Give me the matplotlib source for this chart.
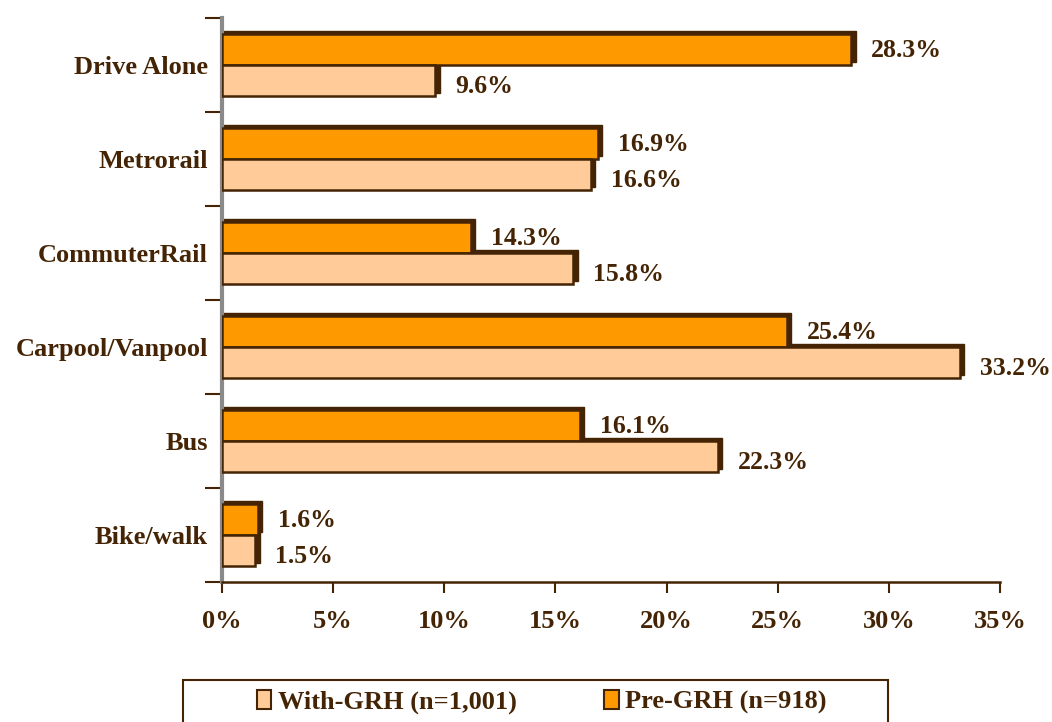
import numpy as np
import matplotlib.pyplot as plt
from matplotlib.patches import Patch, Rectangle

categories = ['Bike/walk', 'Bus', 'Carpool/Vanpool', 'CommuterRail', 'Metrorail', 'Drive Alone']
with_grh = [1.5, 22.3, 33.2, 15.8, 16.6, 9.6]
pre_grh = [1.6, 16.1, 25.4, 11.2, 16.9, 28.3]   # bar lengths as drawn
pre_labels = ['1.6%', '16.1%', '25.4%', '14.3%', '16.9%', '28.3%']
with_labels = ['1.5%', '22.3%', '33.2%', '15.8%', '16.6%', '9.6%']
x_ticks = [0, 5, 10, 15, 20, 25, 30, 35]

BROWN = '#442404'
ORANGE = '#ff9900'
LIGHT = '#ffcc99'
plt.rcParams['font.family'] = ['Liberation Serif', 'DejaVu Serif']
plt.rcParams['font.weight'] = 'bold'

fig = plt.figure(figsize=(10.52, 7.22), dpi=100)
ax = fig.add_axes([222 / 1052, 1 - 582 / 722, 778 / 1052, 564 / 722])

y = np.arange(len(categories))
h = 0.33
dx, dy = 0.2, 0.03

def draw(vals, offs, color):
    # fake 3D depth: dark slab behind each bar
    ax.barh(y + offs + dy, np.array(vals) + dx, height=h, left=0,
            color=BROWN, edgecolor=BROWN, linewidth=1, zorder=2)
    ax.barh(y + offs, vals, height=h, color=color, edgecolor=BROWN,
            linewidth=1.8, zorder=3)

draw(pre_grh, h / 2, ORANGE)
draw(with_grh, -h / 2, LIGHT)

for i in range(len(categories)):
    ax.text(pre_grh[i] + 0.9, y[i] + h / 2 - 0.01, pre_labels[i],
            va='center', ha='left', fontsize=18.5, color=BROWN, fontweight='bold')
    ax.text(with_grh[i] + 0.9, y[i] - h / 2 - 0.06, with_labels[i],
            va='center', ha='left', fontsize=18.5, color=BROWN, fontweight='bold')

ax.set_xlim(0, 35)
ax.set_ylim(-0.5, len(categories) - 0.5)
ax.set_xticks(x_ticks)
ax.set_xticklabels([f'{t}%' for t in x_ticks], fontsize=19, color=BROWN, fontweight='bold')
ax.set_yticks(y)
ax.set_yticklabels(categories, fontsize=19, color=BROWN, fontweight='bold')
ax.set_yticks(np.arange(-0.5, len(categories)), minor=True)
ax.tick_params(axis='y', which='major', length=0, pad=10)
ax.tick_params(axis='y', which='minor', length=12, width=1.5, color=BROWN, direction='out')
ax.tick_params(axis='x', length=8, width=1.5, color=BROWN, direction='out', pad=12)

for s in ['top', 'right']:
    ax.spines[s].set_visible(False)
ax.spines['left'].set_color('#8a8a8a')
ax.spines['left'].set_linewidth(3)
ax.spines['bottom'].set_color(BROWN)
ax.spines['bottom'].set_linewidth(1.8)

# legend box, running off the bottom edge as in the original
W, H = 1052, 722
fig.patches.append(Rectangle((183 / W, -0.05), (888 - 183) / W, 0.05 + (H - 680) / H,
                             transform=fig.transFigure, facecolor='white',
                             edgecolor=BROWN, linewidth=1.5, zorder=5))
handles = [Patch(facecolor=LIGHT, edgecolor=BROWN, linewidth=1.5),
           Patch(facecolor=ORANGE, edgecolor=BROWN, linewidth=1.5)]
leg = fig.legend(handles, ['With-GRH (n=1,001)', 'Pre-GRH (n=918)'], ncol=2,
                 loc='center', bbox_to_anchor=(0.515, 1 - 702 / 722),
                 frameon=False, fontsize=19, columnspacing=3.3,
                 handlelength=0.55, handleheight=0.75, handletextpad=0.25,
                 borderpad=0, labelcolor=BROWN)
leg.set_zorder(6)
for t in leg.get_texts():
    t.set_fontweight('bold')

fig.savefig('out.png', dpi=100)
